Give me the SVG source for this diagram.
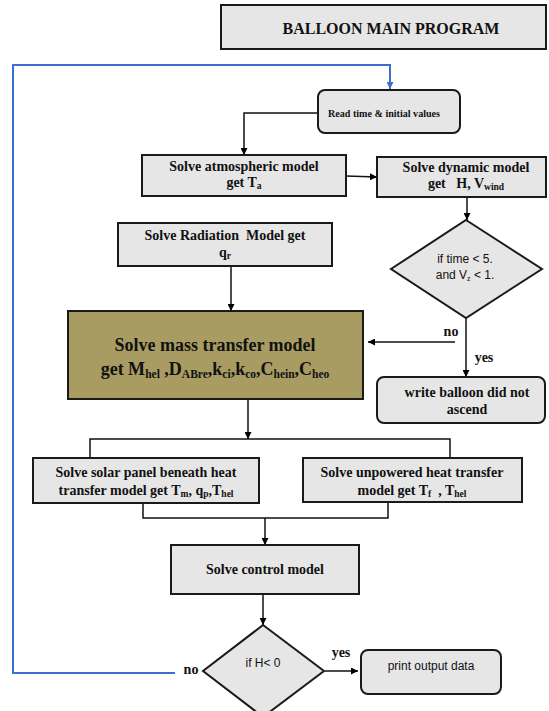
<svg xmlns="http://www.w3.org/2000/svg" width="549" height="711" viewBox="0 0 549 711">
<defs>
<marker id="ah" viewBox="0 0 10 10" refX="10" refY="5" markerWidth="7" markerHeight="7" markerUnits="userSpaceOnUse" orient="auto"><path d="M0,0 L10,5 L0,10 z" fill="#000"/></marker>
<marker id="ahb" viewBox="0 0 10 10" refX="10" refY="5" markerWidth="7" markerHeight="7" markerUnits="userSpaceOnUse" orient="auto"><path d="M0,0 L10,5 L0,10 z" fill="#3c6fd0"/></marker>
<style>
.box{fill:#e6e6e6;stroke:#1a1a1a;stroke-width:2}
.mass{fill:#a89c62;stroke:#1a1a1a;stroke-width:2}
.t{font-family:"Liberation Serif",serif;font-weight:bold;font-size:14px;text-anchor:middle;fill:#111;white-space:pre}
.s{font-family:"Liberation Sans",sans-serif;font-size:12px;text-anchor:middle;fill:#111}
.c{fill:none;stroke:#111;stroke-width:1.5}
.b{fill:none;stroke:#3c6fd0;stroke-width:2}
.sub{font-size:9.5px}
</style>
</defs>
<rect width="549" height="711" fill="#fff"/>

<g id="connectors">
<path class="b" d="M175,673 H13 V65 H390 V89" marker-end="url(#ahb)"/>
<path class="c" d="M318,113 H244 V155" marker-end="url(#ah)"/>
<path class="c" d="M346,176 L377,177" marker-end="url(#ah)"/>
<path class="c" d="M467,197 V220" marker-end="url(#ah)"/>
<path class="c" d="M466,318 V377" marker-end="url(#ah)"/>
<path class="c" d="M455,342 H368" marker-end="url(#ah)"/>
<path class="c" d="M231,266 V311" marker-end="url(#ah)"/>
<path class="c" d="M248,399 V439" marker-end="url(#ah)"/>
<path class="c" d="M90,458 V439 H450 V458"/>
<path class="c" d="M143,503 V518 H388 V502"/>
<path class="c" d="M265,518 V545" marker-end="url(#ah)"/>
<path class="c" d="M263,594 V625" marker-end="url(#ah)"/>
<path class="c" d="M325,671 H358" marker-end="url(#ah)"/>
<text class="t" x="451" y="336">no</text>
<text class="t" x="484" y="362">yes</text>
<text class="t" x="191" y="674">no</text>
<text class="t" x="341" y="657">yes</text>
</g>

<g id="title">
<rect class="box" x="221" y="5" width="325" height="44"/>
<text class="t" x="391" y="34" style="font-size:16px">BALLOON MAIN PROGRAM</text>
</g>

<g id="read">
<rect class="box" x="318" y="90" width="142" height="43" rx="7"/>
<text class="t" x="384" y="117" style="font-size:11px" textLength="112" lengthAdjust="spacingAndGlyphs">Read time &amp; initial values</text>
</g>

<g id="atmospheric">
<rect class="box" x="142" y="155" width="204" height="41"/>
<text class="t" x="244" y="171">Solve atmospheric model</text>
<text class="t" x="244" y="187">get T<tspan class="sub" dy="2">a</tspan></text>
</g>

<g id="dynamic">
<rect class="box" x="377" y="157" width="169" height="40"/>
<text class="t" x="466" y="172">Solve dynamic model</text>
<text class="t" x="466" y="188" xml:space="preserve">get   H, V<tspan class="sub" dy="2">wind</tspan></text>
</g>

<g id="radiation">
<rect class="box" x="118" y="223" width="214" height="43"/>
<text class="t" x="225" y="240" xml:space="preserve">Solve Radiation  Model get</text>
<text class="t" x="225" y="257">q<tspan class="sub" dy="2">r</tspan></text>
</g>

<g id="decision1">
<polygon class="box" points="466,220 542,269 466,318 391,269"/>
<text class="s" x="465" y="263">if time &lt; 5.</text>
<text class="s" x="465" y="279">and V<tspan style="font-size:7px" dy="2">z</tspan><tspan dy="-2"> &lt; 1.</tspan></text>
</g>

<g id="mass">
<rect class="mass" x="68" y="311" width="295" height="88"/>
<text class="t" x="215" y="351" style="font-size:18px">Solve mass transfer model</text>
<text class="t" x="215" y="375" style="font-size:18px">get M<tspan style="font-size:11.5px" dy="3">hel</tspan><tspan dy="-3"> ,D</tspan><tspan style="font-size:11.5px" dy="3">ABre</tspan><tspan dy="-3">,k</tspan><tspan style="font-size:11.5px" dy="3">ci</tspan><tspan dy="-3">,k</tspan><tspan style="font-size:11.5px" dy="3">co</tspan><tspan dy="-3">,C</tspan><tspan style="font-size:11.5px" dy="3">hein</tspan><tspan dy="-3">,C</tspan><tspan style="font-size:11.5px" dy="3">heo</tspan></text>
</g>

<g id="write">
<rect class="box" x="377" y="377" width="168" height="46" rx="7"/>
<text class="t" x="467" y="397">write balloon did not</text>
<text class="t" x="467" y="414">ascend</text>
</g>

<g id="solar">
<rect class="box" x="33" y="458" width="226" height="45"/>
<text class="t" x="146" y="477">Solve solar panel beneath heat</text>
<text class="t" x="146" y="495">transfer model get T<tspan class="sub" dy="2">m</tspan><tspan dy="-2">, q</tspan><tspan class="sub" dy="2">p</tspan><tspan dy="-2">,T</tspan><tspan class="sub" dy="2">hel</tspan></text>
</g>

<g id="unpowered">
<rect class="box" x="303" y="458" width="219" height="44"/>
<text class="t" x="412" y="477">Solve unpowered heat transfer</text>
<text class="t" x="412" y="495" xml:space="preserve">model get T<tspan class="sub" dy="2">f</tspan><tspan dy="-2">  , T</tspan><tspan class="sub" dy="2">hel</tspan></text>
</g>

<g id="control">
<rect class="box" x="171" y="545" width="188" height="49"/>
<text class="t" x="265" y="574">Solve control model</text>
</g>

<g id="decision2">
<polygon class="box" points="263,625 324,671 263,717 203,671"/>
<text class="s" x="263" y="667">if H&lt; 0</text>
</g>

<g id="print">
<rect class="box" x="361" y="650" width="140" height="44" rx="7"/>
<text class="s" x="431" y="670">print output data</text>
</g>
</svg>
